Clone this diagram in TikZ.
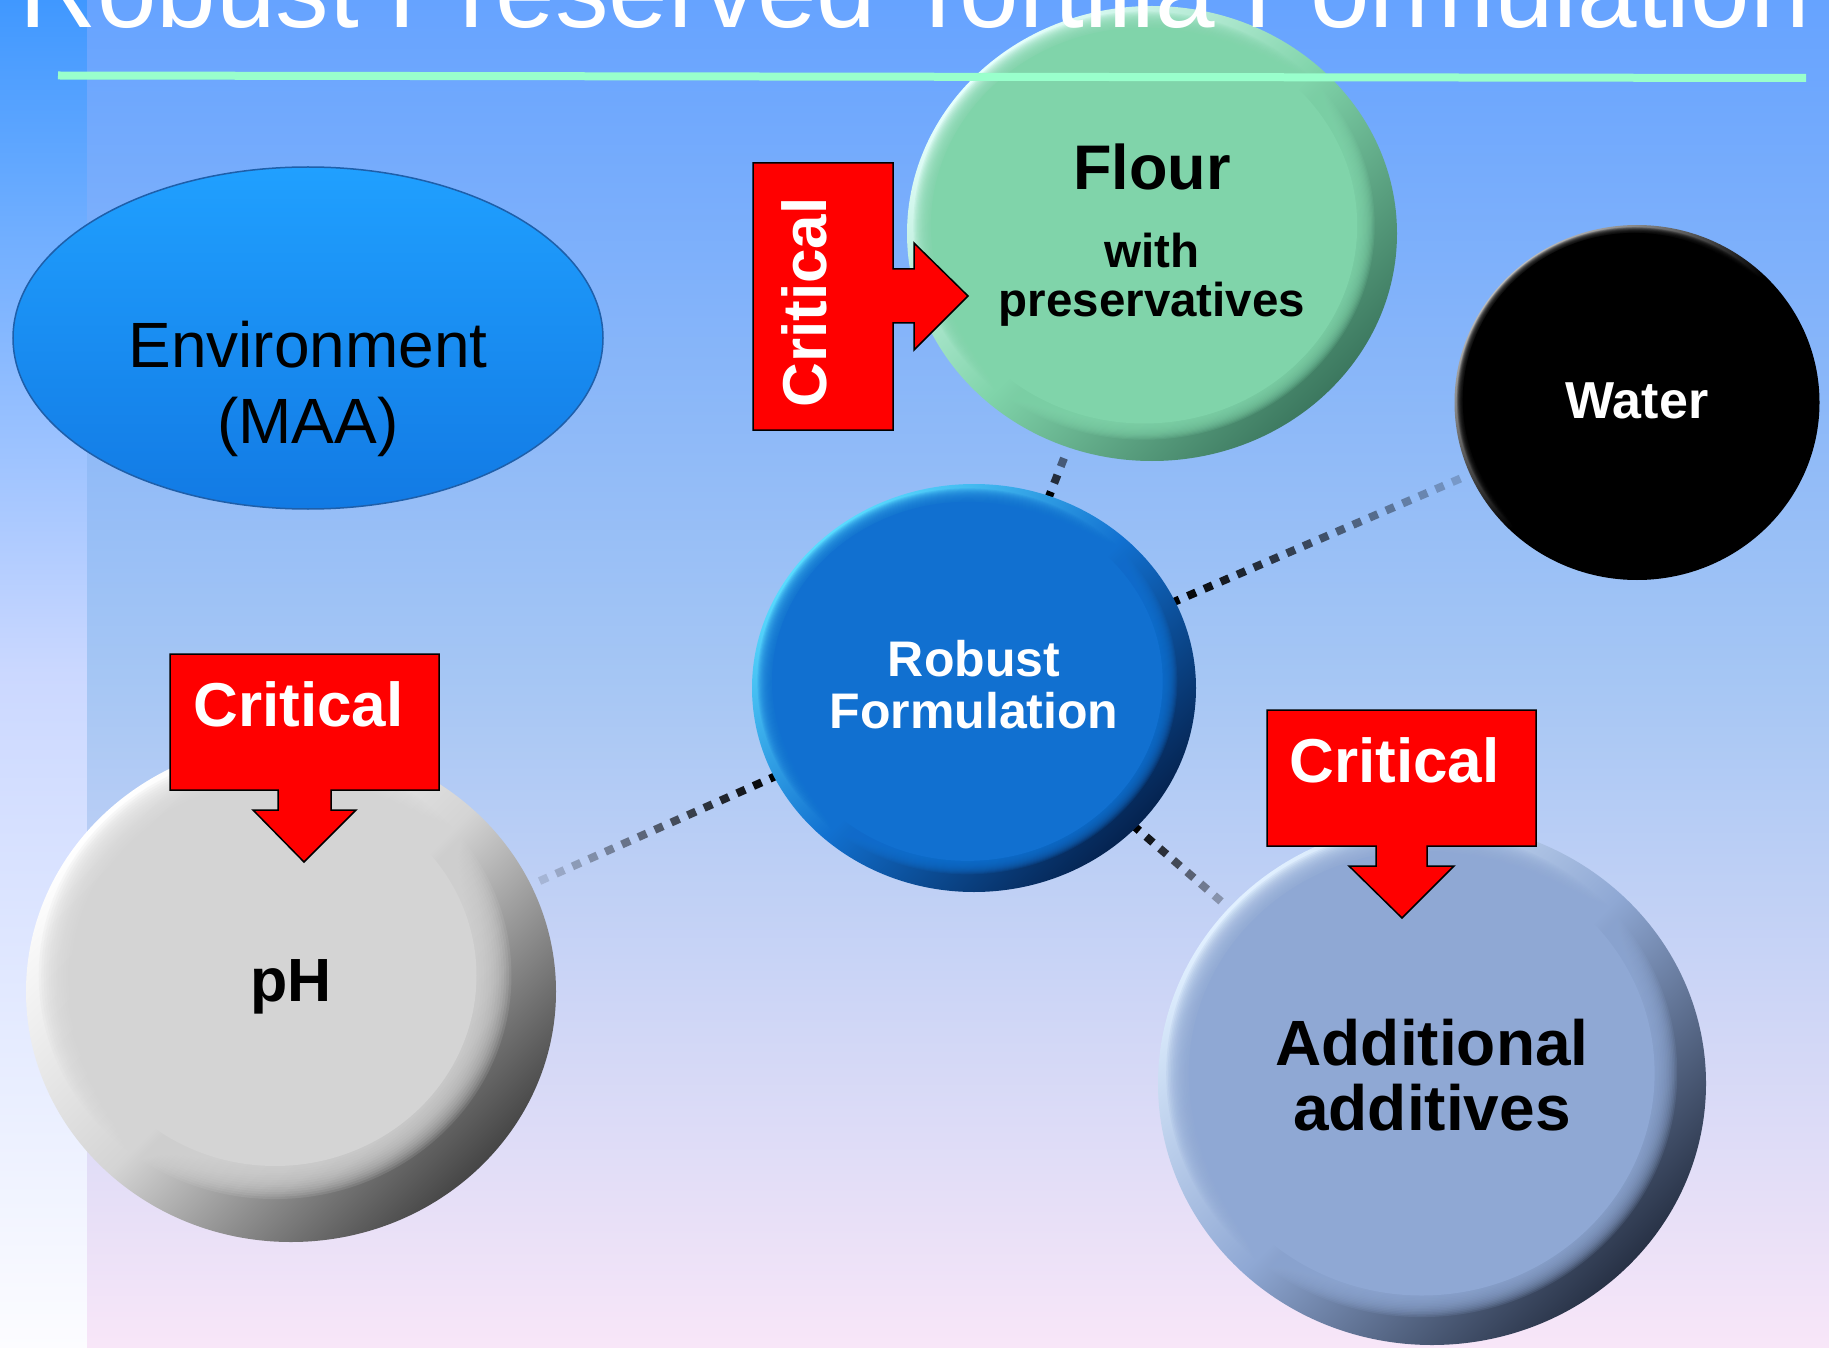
\documentclass[tikz,border=0pt]{standalone}
\usepackage{fontspec}
\setmainfont{Liberation Sans}
\usetikzlibrary{shapes.geometric,decorations.markings}
\pgfdeclarelayer{bg}
\pgfdeclarelayer{conn}
\pgfsetlayers{bg,conn,main}

\definecolor{bgtop}{RGB}{102,163,255}
\definecolor{bgmid}{RGB}{165,198,244}
\definecolor{bgbot}{RGB}{248,230,248}
\definecolor{striptop}{RGB}{64,152,255}
\definecolor{stripmid}{RGB}{203,216,255}
\definecolor{stripbot}{RGB}{252,252,255}
\definecolor{rulegreen}{RGB}{153,255,204}
\definecolor{flourF}{RGB}{128,212,170}
\definecolor{flourL}{RGB}{230,255,252}
\definecolor{flourD}{RGB}{60,120,95}
\definecolor{robF}{RGB}{17,112,208}
\definecolor{robL}{RGB}{90,220,255}
\definecolor{robD}{RGB}{5,35,80}
\definecolor{phF}{RGB}{212,212,212}
\definecolor{phL}{RGB}{255,255,255}
\definecolor{phD}{RGB}{70,70,70}
\definecolor{addF}{RGB}{143,168,212}
\definecolor{addL}{RGB}{225,240,255}
\definecolor{addD}{RGB}{40,50,70}
\definecolor{waterL}{RGB}{190,190,190}
\definecolor{envTop}{RGB}{32,160,255}
\definecolor{envBot}{RGB}{18,122,228}
\definecolor{envLine}{RGB}{30,95,170}
\definecolor{critred}{RGB}{255,0,0}

\tikzset{
  button/.style n args={6}{ellipse, inner sep=0pt, align=center,
    minimum width=2*#1, minimum height=2*#2,
    top color=#3, bottom color=#5, middle color=#4, shading angle=45,
    path picture={
      \pgfmathsetmacro\btnoff{(1-#6)*#1*0.25}
      \foreach \i in {0,...,13}{
        \pgfmathsetmacro\sc{#6+(1-#6)*0.55*(1-\i/14)}
        \fill[#4, fill opacity=0.15]
          ([xshift=-\btnoff pt, yshift=\btnoff pt]path picture bounding box.center)
          ellipse [x radius=#1*\sc, y radius=#2*\sc];
      }
      \fill[#4] ([xshift=-\btnoff pt, yshift=\btnoff pt]path picture bounding box.center)
          ellipse [x radius=#1*#6, y radius=#2*#6];
    }},
  conn/.style={decoration={markings,
      mark=between positions 0 and 1 step 18pt with {
        \pgfmathsetmacro\op{1-#1*\pgfkeysvalueof{/pgf/decoration/mark info/distance from start}/\pgfdecoratedpathlength}
        \fill[black, fill opacity=\op] (-4.5pt,-4pt) rectangle (4.5pt,4pt);}},
    decorate},
  callout/.style={fill=critred, draw=black, line width=1.5, line join=miter},
  crit/.style={text=white, inner sep=0pt, font=\bfseries\fontsize{62}{62}\selectfont},
}

\begin{document}
\begin{tikzpicture}[x=1pt, y=-1pt]
\useasboundingbox (0,0) rectangle (1829,1348);

\begin{pgfonlayer}{bg}
  \shade[top color=striptop, bottom color=stripbot, middle color=stripmid] (0,0) rectangle (87,1348);
  \shade[top color=bgtop, bottom color=bgbot, middle color=bgmid] (87,0) rectangle (1829,1348);
\end{pgfonlayer}

% Environment
\node[ellipse, inner sep=0pt, align=center, minimum width=590, minimum height=342,
      top color=envTop, bottom color=envBot, draw=envLine, line width=1.5,
      font=\fontsize{64}{76}\selectfont] (env) at (308,338)
  {\rule{0pt}{148pt}Environment\\(MAA)\rule[-14pt]{0pt}{14pt}};

% buttons
\node[button={245}{227.5}{flourL}{flourF}{flourD}{0.87},
      font=\bfseries\fontsize{47.5}{49}\selectfont] (flour) at (1152,233.5)
  {\rule{0pt}{50pt}{\fontsize{63}{63}\selectfont Flour}\\[29pt]with\\preservatives\rule[-10pt]{0pt}{10pt}};

\node[button={182.5}{177.5}{waterL}{black}{black}{0.94}, text=white,
      font=\bfseries\fontsize{52}{54}\selectfont] (water) at (1637,402.5)
  {\rule{0pt}{41pt}Water\rule[-10pt]{0pt}{10pt}};

\node[button={222}{204}{robL}{robF}{robD}{0.88}, text=white,
      font=\bfseries\fontsize{50}{52}\selectfont] (robust) at (974,688)
  {\rule{0pt}{40pt}Robust\\Formulation\rule[-12pt]{0pt}{12pt}};

\node[button={265}{250.5}{phL}{phF}{phD}{0.76},
      font=\bfseries\fontsize{61}{63}\selectfont] (ph) at (291,991.5)
  {\rule{0pt}{45pt}pH\rule[-26pt]{0pt}{26pt}};

\node[button={274}{261.5}{addL}{addF}{addD}{0.85},
      font=\bfseries\fontsize{64}{65}\selectfont] (add) at (1432,1083.5)
  {\rule{0pt}{50pt}Additional\\additives\rule[-22pt]{0pt}{22pt}};

% connectors
\begin{pgfonlayer}{conn}
  \path[conn=0.7] (robust) -- (flour);
  \path[conn=0.85] (robust) -- (water);
  \path[conn=0.92] (robust) -- (ph);
  \path[conn=0.8] (robust) -- (add);
\end{pgfonlayer}

% callouts
\draw[callout] (753,163) -- (893,163) -- (893,269) -- (914,269) -- (914,243) -- (968,296)
  -- (914,350) -- (914,323) -- (893,323) -- (893,430) -- (753,430) -- cycle;
\node[crit, rotate=90, anchor=base] (crit1) at (826,302.5) {Critical};

\draw[callout] (170,654) -- (439,654) -- (439,790) -- (331,790) -- (331,810) -- (356,810)
  -- (304,862) -- (253,810) -- (278,810) -- (278,790) -- (170,790) -- cycle;
\node[crit, anchor=base] (crit2) at (298.5,726) {Critical};

\draw[callout] (1267,710) -- (1536,710) -- (1536,846) -- (1427,846) -- (1427,866) -- (1454,866)
  -- (1402,918) -- (1349,866) -- (1376,866) -- (1376,846) -- (1267,846) -- cycle;
\node[crit, anchor=base] (crit3) at (1394.5,782) {Critical};

% title and rule
\node[anchor=base, text=white, inner sep=0pt, font=\fontsize{107}{107}\selectfont] (title) at (915,28)
  {Robust Preserved Tortilla Formulation};
\draw[rulegreen, line width=8] (58,75.5) -- (1806,78);
\end{tikzpicture}
\end{document}
